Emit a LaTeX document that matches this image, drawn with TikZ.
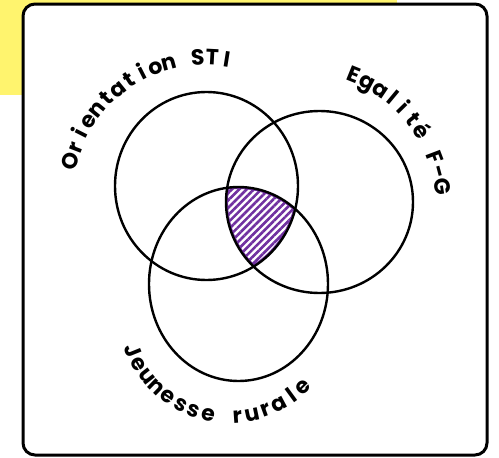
\documentclass[tikz,border=0pt]{standalone}
\usepackage{fontspec}
\newfontfamily\lab{Poppins}
\newcommand\labfont{\lab\bfseries\fontsize{22pt}{22pt}\selectfont}
\usetikzlibrary{patterns.meta}
\definecolor{hiyellow}{HTML}{FFF46E}
\definecolor{violet}{HTML}{7030A0}
\tikzset{
  setline/.style={line width=2.4pt, draw=black},
  letter/.style={font=\labfont, inner sep=0pt, outer sep=0pt, anchor=base},
}
\newlength\chw
% \curvedlabel{prefix}{centre}{radius}{start angle}{end angle}{characters}
% sets the characters along an arc, spread evenly from start to end angle
\newcommand\curvedlabel[6]{%
  \xdef\wsum{0}\xdef\nch{0}%
  \foreach \ch in {#6}{%
    \settowidth\chw{\labfont\ch}%
    \pgfmathsetmacro\tmp{\wsum+\chw}\xdef\wsum{\tmp}%
    \pgfmathtruncatemacro\tmp{\nch+1}\xdef\nch{\tmp}%
  }%
  \pgfmathsetmacro\dirn{(#5>#4) ? 1 : -1}%
  \pgfmathsetmacro\arclen{#3*(abs(#5-#4)/180)*pi}%
  \pgfmathsetmacro\gap{(\arclen-\wsum)/(\nch-1)}%
  \xdef\acc{0}%
  \foreach \ch [count=\k] in {#6}{%
    \settowidth\chw{\labfont\ch}%
    \pgfmathsetmacro\ang{#4+\dirn*deg((\acc+\chw/2)/#3)}%
    \pgfmathsetmacro\rot{\ang+\dirn*90}%
    \node[letter, rotate=\rot] (#1\k) at ([shift={(\ang:#3pt)}]#2) {\ch};%
    \pgfmathsetmacro\tmp{\acc+\chw+\gap}\xdef\acc{\tmp}%
  }%
}
\begin{document}
\begin{tikzpicture}[x=1pt,y=1pt]
  \useasboundingbox (0,0) rectangle (499,-458);
  % yellow band behind the card
  \fill[hiyellow] (0,0) rectangle (397,-95);
  % card
  \draw[line width=3pt, fill=white, rounded corners=12pt] (23,-4) rectangle (487,-455);

  % centres of the three sets
  \coordinate (cA) at (206.5,-186);
  \coordinate (cB) at (319.5,-202);
  \coordinate (cC) at (238.5,-284);

  % common part of the three sets, hatched
  \begin{scope}
    \clip (cA) ellipse [x radius=91.5pt, y radius=94pt];
    \clip (cB) ellipse [x radius=93.5pt, y radius=91pt];
    \clip (cC) ellipse [x radius=89.5pt, y radius=97pt];
    \fill[pattern={Lines[angle=45, distance=5.2pt, line width=2.6pt]}, pattern color=violet]
      (0,0) rectangle (499,-458);
    \draw[violet, line width=4pt] (cC) ellipse [x radius=89.5pt, y radius=97pt];
    \draw[violet, line width=4pt] (cA) ellipse [x radius=91.5pt, y radius=94pt];
    \draw[violet, line width=4pt] (cB) ellipse [x radius=93.5pt, y radius=91pt];
  \end{scope}

  % outlines of the sets
  \draw[setline] (cA) ellipse [x radius=91.5pt, y radius=94pt];
  \draw[setline] (cB) ellipse [x radius=93.5pt, y radius=91pt];
  \draw[setline] (cC) ellipse [x radius=89.5pt, y radius=97pt];

  % curved set labels
  \coordinate (lA) at (205,-197);
  \coordinate (lB) at (300,-209);
  \coordinate (lC) at (230,-311);
  \curvedlabel{ori}{lA}{132}{165}{81}{O,r,i,e,n,t,a,t,i,o,n,~,S,T,I}
  \curvedlabel{ega}{lB}{137}{68}{9}{E,g,a,l,i,t,é,~,F,-,G}
  \curvedlabel{jeu}{lC}{112}{202}{314}{J,e,u,n,e,s,s,e,~,r,u,r,a,l,e}
\end{tikzpicture}
\end{document}
